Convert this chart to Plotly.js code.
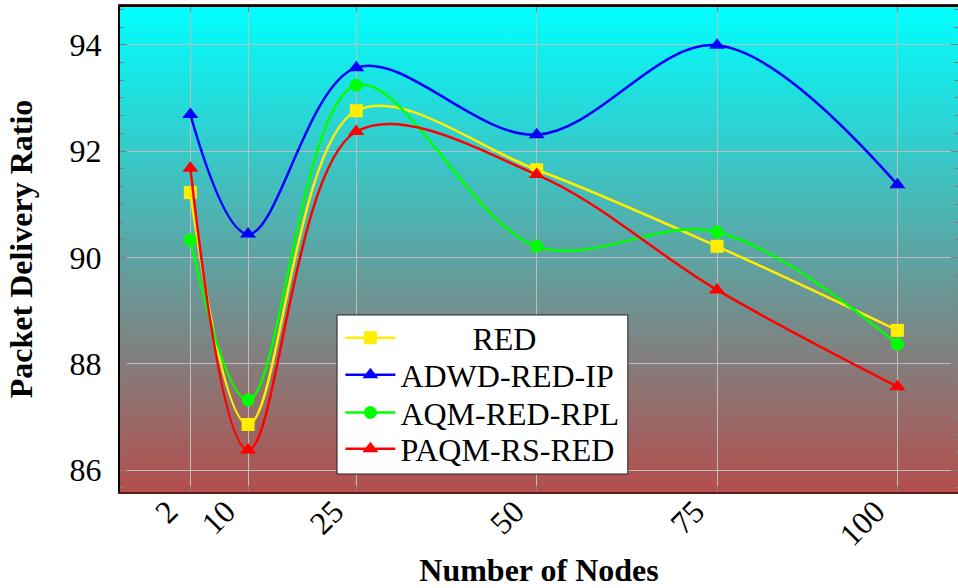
<!DOCTYPE html>
<html>
<head>
<meta charset="utf-8">
<script src="https://cdn.plot.ly/plotly-3.0.1.min.js"></script>
<style>html,body{margin:0;padding:0;background:#fff;}#chart{width:958px;height:588px;}</style>
</head>
<body>
<div id="chart"></div>
<script>
// ---- data ----
const nodes = [2, 10, 25, 50, 75, 100];
const xTickLabels = ['2', '10', '25', '50', '75', '100'];
const redPDR  = [91.22, 86.86, 92.76, 91.65, 90.21, 88.63];
const adwdPDR = [92.69, 90.44, 93.57, 92.31, 93.99, 91.37];
const aqmPDR  = [90.33, 87.32, 93.24, 90.21, 90.48, 88.37];
const paqmPDR = [91.68, 86.38, 92.37, 91.56, 89.39, 87.57];
const seriesNames = ['RED', 'ADWD-RED-IP', 'AQM-RED-RPL', 'PAQM-RS-RED'];
const yTickVals = [86, 88, 90, 92, 94];

const serif = 'Liberation Serif, Times New Roman, serif';
const nb = '\u00a0';

function tr(name, y, color, symbol, size, legendId) {
  return {
    x: nodes, y: y, name: name, type: 'scatter', mode: 'lines+markers',
    legend: legendId,
    line: {color: color, width: 2.5, shape: 'spline', smoothing: 1},
    marker: {color: color, symbol: symbol, size: size}
  };
}
const data = [
  tr(nb.repeat(9) + seriesNames[0], redPDR, '#ffee00', 'square', 13, 'legend'),
  tr(seriesNames[1], adwdPDR, '#0000ff', 'triangle-up', 14, 'legend2'),
  tr(seriesNames[2], aqmPDR, '#00ff00', 'circle', 13, 'legend3'),
  tr(seriesNames[3], paqmPDR, '#ff0000', 'triangle-up', 14, 'legend4')
];

const svg = '<svg xmlns="http://www.w3.org/2000/svg" width="100" height="100" preserveAspectRatio="none">' +
  '<defs><linearGradient id="g" x1="0" y1="0" x2="0" y2="1">' +
  '<stop offset="0" stop-color="#00ffff"/><stop offset="1" stop-color="#b44e4c"/>' +
  '</linearGradient></defs><rect width="100" height="100" fill="url(#g)"/></svg>';

function leg(y) {
  return {
    x: 0.263, y: y, xanchor: 'left', yanchor: 'middle',
    bgcolor: 'rgba(0,0,0,0)', borderwidth: 0,
    font: {family: serif, size: 32, color: '#000'},
    itemwidth: 50, valign: 'middle'
  };
}

const layout = {
  width: 958, height: 588,
  margin: {l: 120, r: 0, t: 6, b: 96},
  paper_bgcolor: '#ffffff',
  plot_bgcolor: 'rgba(0,0,0,0)',
  font: {family: serif, color: '#000', size: 32},
  showlegend: true,
  legend: leg(0.3169),
  legend2: leg(0.2407),
  legend3: leg(0.1632),
  legend4: leg(0.0885),
  images: [{
    source: 'data:image/svg+xml;charset=utf-8,' + encodeURIComponent(svg),
    xref: 'paper', yref: 'paper', x: 0, y: 1, sizex: 1, sizey: 1,
    sizing: 'stretch', layer: 'below', xanchor: 'left', yanchor: 'top'
  }],
  xaxis: {
    range: [-7.75, 108.4],
    tickmode: 'array', tickvals: nodes, ticktext: xTickLabels,
    tickangle: -45,
    ticks: 'inside', ticklen: 6, tickcolor: '#808080', tickwidth: 1,
    ticklabelshift: -22, ticklabelstandoff: -14,
    showgrid: true, gridcolor: '#bdbdbd', gridwidth: 1,
    zeroline: false,
    showline: true, linecolor: '#5a1e1c', linewidth: 2, mirror: 'ticks',
    tickfont: {family: serif, size: 32, color: '#000'},
    title: {text: 'Number of Nodes', font: {family: serif, size: 32, weight: 'bold', color: '#000'}, standoff: 16},
    automargin: false
  },
  yaxis: {
    range: [85.59, 94.73],
    tickmode: 'array', tickvals: yTickVals,
    ticks: 'inside', ticklen: 7, tickcolor: '#808080', tickwidth: 1,
    minor: {ticks: 'inside', ticklen: 4, tickcolor: '#808080', dtick: 1/3, tick0: 86, showgrid: false},
    showgrid: true, gridcolor: '#bdbdbd', gridwidth: 1,
    zeroline: false,
    showline: true, linecolor: '#000', linewidth: 2, mirror: 'ticks',
    ticklabelstandoff: 10,
    tickfont: {family: serif, size: 32, color: '#000'},
    title: {text: 'Packet Delivery Ratio', font: {family: serif, size: 32, weight: 'bold', color: '#000'}, standoff: 27},
    automargin: false
  },
  shapes: [
    {type: 'line', xref: 'paper', yref: 'paper', x0: 0, x1: 1, y0: 1, y1: 1,
     line: {color: '#000', width: 2}},
    {type: 'rect', xref: 'paper', yref: 'paper', x0: 0.259, x1: 0.606, y0: 0.037, y1: 0.3642,
     fillcolor: '#ffffff', line: {color: '#222', width: 1}, layer: 'above'}
  ]
};

Plotly.newPlot('chart', data, layout, {displayModeBar: false, staticPlot: true});
</script>
</body>
</html>
